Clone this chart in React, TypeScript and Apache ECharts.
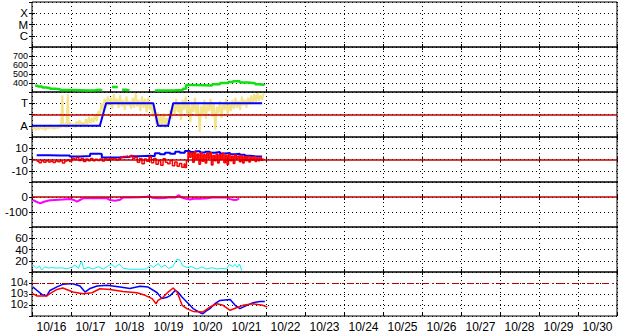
import React, { useEffect, useRef } from "react";
import * as echarts from "echarts";

// x values are days since 10/16 00:00
const dayLabels = ["10/16", "10/17", "10/18", "10/19", "10/20", "10/21", "10/22", "10/23", "10/24", "10/25", "10/26", "10/27", "10/28", "10/29", "10/30"];

const modeLabels: Record<number, string> = { 1: "C", 2: "M", 3: "X" };
const stateLabels: Record<number, string> = { 1: "A", 3: "T" };

const greenSeries: (number | null)[][] = [
  [0.08, 370], [0.15, 360], [0.26, 350], [0.36, 345], [0.46, 335], [0.59, 330], [0.72, 322], [0.97, 320],
  [1.23, 318], [1.49, 320], [1.62, 325], [1.74, 318], [1.8, null],
  [2.05, 355], [2.15, 355], [2.2, null], [2.31, 325], [2.41, 320], [2.5, null],
  [3.15, 318], [3.41, 320], [3.67, 322], [3.87, 335], [3.95, 378], [4.18, 375], [4.44, 372], [4.62, 385],
  [4.82, 400], [5.03, 410], [5.15, 420], [5.33, 405], [5.54, 398], [5.72, 385], [5.79, 380], [5.95, 390],
];

const yellowSeries: number[][] = [
  [0.02, 0.7], [0.06, 0.95], [0.1, 0.6], [0.14, 0.9], [0.18, 0.65], [0.22, 1.0], [0.26, 0.7], [0.3, 0.85], [0.34, 0.6], [0.38, 0.95],
  [0.42, 0.7], [0.46, 1.1], [0.5, 0.75], [0.54, 0.9], [0.58, 0.7], [0.62, 1.0], [0.66, 0.75], [0.7, 1.1], [0.74, 0.8], [0.78, 3.7],
  [0.8, 0.9], [0.84, 1.2], [0.88, 0.8], [0.92, 3.8], [0.94, 1.0], [0.98, 1.3], [1.02, 0.9], [1.06, 1.2], [1.1, 0.85], [1.14, 1.4],
  [1.18, 1.0], [1.22, 1.5], [1.26, 1.1], [1.3, 1.3], [1.34, 0.9], [1.38, 1.6], [1.42, 1.1], [1.46, 1.8], [1.5, 1.2], [1.54, 1.7],
  [1.58, 1.3], [1.62, 2.0], [1.66, 1.4], [1.7, 2.3], [1.74, 1.9], [1.78, 3.0], [1.82, 2.4], [1.86, 3.4], [1.9, 2.6], [1.94, 3.6],
  [1.98, 2.8], [2.02, 3.5], [2.06, 2.5], [2.1, 3.8], [2.14, 2.9], [2.18, 3.4], [2.22, 2.6], [2.26, 3.7], [2.3, 2.7], [2.34, 3.3],
  [2.38, 2.4], [2.42, 3.6], [2.46, 2.8], [2.5, 3.2], [2.54, 2.5], [2.58, 3.5], [2.62, 2.6], [2.66, 3.9], [2.7, 2.7], [2.74, 3.3],
  [2.78, 2.3], [2.82, 3.6], [2.86, 2.6], [2.9, 3.4], [2.94, 2.2], [2.98, 3.5], [3.02, 2.4], [3.06, 3.1], [3.1, 1.8], [3.14, 2.6],
  [3.18, 1.2], [3.22, 2.2], [3.26, 0.9], [3.3, 1.9], [3.34, 1.0], [3.38, 2.1], [3.42, 0.8], [3.46, 1.7], [3.5, 1.1], [3.54, 2.4],
  [3.58, 1.6], [3.62, 3.0], [3.66, 2.0], [3.7, 3.4], [3.74, 2.2], [3.78, 3.1], [3.82, 1.5], [3.86, 3.3], [3.9, 2.4], [3.94, 3.6],
  [3.98, 2.0], [4.02, 3.2], [4.06, 1.3], [4.1, 3.0], [4.14, 2.2], [4.18, 3.5], [4.22, 1.9], [4.26, 2.9], [4.3, 0.5], [4.34, 2.8],
  [4.38, 2.0], [4.42, 3.3], [4.46, 1.6], [4.5, 3.0], [4.54, 2.3], [4.58, 3.4], [4.62, 1.8], [4.66, 3.1], [4.7, 0.6], [4.74, 2.7],
  [4.78, 2.1], [4.82, 3.2], [4.86, 1.7], [4.9, 3.0], [4.94, 2.4], [4.98, 3.4], [5.02, 1.9], [5.06, 3.1], [5.1, 2.3], [5.14, 3.3],
  [5.18, 2.5], [5.22, 3.5], [5.26, 2.6], [5.3, 3.2], [5.34, 2.4], [5.38, 3.6], [5.42, 2.8], [5.46, 3.3], [5.5, 2.6], [5.54, 3.5],
  [5.58, 2.9], [5.62, 3.7], [5.66, 3.0], [5.7, 3.8], [5.74, 3.1], [5.78, 3.9], [5.82, 3.2], [5.86, 3.7], [5.9, 3.3], [5.94, 3.9],
];

const stateSeries: number[][] = [
  [0, 1], [1.74, 1], [1.9, 3], [3.11, 3], [3.23, 1], [3.49, 1], [3.62, 3], [5.9, 3],
];

const blueDelta: number[][] = [
  [0.12, 3.8], [0.46, 3.6], [0.72, 3.5], [0.97, 2.6], [1.23, 3.2], [1.49, 5.2], [1.74, 5.0], [1.79, 1.8], [2.0, 2.0],
  [2.26, 2.2], [2.51, 3.0], [2.77, 3.3], [3.03, 3.0], [3.15, 5.5], [3.28, 4.6], [3.41, 6.0], [3.54, 5.2], [3.67, 6.8],
  [3.79, 6.0], [3.92, 7.5], [4.05, 6.6], [4.18, 7.4], [4.31, 6.2], [4.44, 7.0], [4.56, 6.0], [4.69, 6.6], [4.82, 5.4],
  [4.95, 5.8], [5.08, 4.6], [5.21, 5.2], [5.33, 4.2], [5.46, 3.4], [5.59, 3.0], [5.72, 2.6], [5.9, 2.4],
];

const redDelta: number[][] = [
  [0.12, -1.5], [0.18, -2.8], [0.24, -1.2], [0.3, -2.5], [0.36, -1.0], [0.42, -2.2], [0.48, -1.5], [0.54, -2.6], [0.6, -1.3],
  [0.66, -2.0], [0.72, -1.0], [0.78, -3.2], [0.84, -1.4], [0.9, -0.5], [0.96, -1.8], [1.02, 1.2], [1.08, 0.2], [1.14, 1.8],
  [1.2, -0.8], [1.26, 1.0], [1.32, -1.8], [1.38, 0.5], [1.44, -1.0], [1.5, 0.8], [1.56, -1.2], [1.62, 0.2], [1.68, -0.8],
  [1.74, 0.5], [1.8, -1.3], [1.86, 0.6], [1.92, -0.6], [1.98, 0.8], [2.04, 0.2], [2.1, 1.0], [2.16, -0.4], [2.22, 0.6],
  [2.28, 1.8], [2.34, 2.6], [2.4, 3.2], [2.46, 2.4], [2.52, 3.6], [2.58, 1.2], [2.64, 2.0], [2.7, -2.5], [2.76, 1.0],
  [2.82, -3.8], [2.88, 0.5], [2.94, -1.5], [3.0, 2.2], [3.06, -2.8], [3.12, 0.8], [3.18, -4.2], [3.24, -1.0], [3.3, -5.0],
  [3.36, 0.6], [3.42, -2.4], [3.48, -3.8], [3.54, -0.8], [3.6, -5.6], [3.66, -2.2], [3.72, -6.0], [3.78, -3.5], [3.84, -6.8],
  [3.9, -4.0], [3.92, -7.2], [3.96, -1.0], [4.0, 6.5], [4.04, 2.0], [4.08, 5.8], [4.12, -2.5], [4.16, 6.8], [4.2, 0.5],
  [4.24, 5.0], [4.28, -4.2], [4.32, 6.0], [4.36, -1.5], [4.4, 4.5], [4.44, -3.0], [4.48, 5.5], [4.52, 0.8], [4.56, 6.2],
  [4.6, -4.8], [4.64, 3.5], [4.68, -1.2], [4.72, 5.0], [4.76, -3.2], [4.8, 4.2], [4.84, 0.2], [4.88, 5.5], [4.92, -2.8],
  [4.96, 3.8], [5.0, -4.5], [5.04, 4.6], [5.08, -1.0], [5.12, 3.0], [5.16, -3.6], [5.2, 4.0], [5.24, 0.5], [5.28, 3.2],
  [5.32, -2.0], [5.36, 3.6], [5.4, -3.0], [5.44, 2.5], [5.48, -1.0], [5.52, 3.0], [5.56, -2.2], [5.6, 1.8], [5.64, -0.5],
  [5.68, 2.6], [5.72, -1.8], [5.76, 1.5], [5.8, -1.0], [5.84, 2.0], [5.88, -0.6], [5.92, 1.2],
];

const magentaSeries: number[][] = [
  [0.03, -20], [0.1, -30], [0.21, -42], [0.33, -30], [0.46, -22], [0.59, -20], [0.79, -17], [0.97, -13], [1.08, -20],
  [1.15, -31], [1.23, -20], [1.31, -9], [1.49, -9], [1.74, -9], [1.92, -9], [2.0, -20], [2.13, -25], [2.26, -18],
  [2.33, -4], [2.51, -3], [2.77, -2], [2.85, 0], [2.95, 0], [2.97, 4], [3.03, 4], [3.08, -5], [3.23, -8], [3.41, -6],
  [3.54, -2], [3.67, -4], [3.77, 13], [3.82, -2], [3.92, -10], [4.05, -16], [4.18, -10], [4.31, -12], [4.49, -9],
  [4.62, -4], [4.82, -3], [5.0, -4], [5.08, -14], [5.18, -20], [5.26, -18], [5.31, -8],
];

const cyanSeries: number[][] = [
  [0.03, 12.4], [0.12, 6.5], [0.19, 10.7], [0.25, 3.6], [0.33, 9.5], [0.42, 7], [0.5, 8], [0.63, 7], [0.76, 7.5],
  [0.89, 5.9], [1.02, 8.3], [1.1, 12.4], [1.19, 6.5], [1.27, 19.5], [1.33, 5.3], [1.44, 8.3], [1.57, 5.3], [1.7, 9.5],
  [1.83, 5.3], [1.96, 11.3], [2.04, 13.6], [2.13, 8.3], [2.24, 14.2], [2.34, 6.5], [2.51, 4.8], [2.77, 4.8], [2.94, 5.3],
  [3.03, 12.4], [3.11, 8.3], [3.24, 15], [3.32, 8.3], [3.41, 12.4], [3.5, 6.5], [3.61, 9.5], [3.71, 22.5], [3.79, 21.3],
  [3.86, 11.3], [3.97, 8.3], [4.09, 9.5], [4.22, 5.3], [4.35, 8.9], [4.48, 5.3], [4.61, 7.7], [4.74, 5.3], [4.86, 6.5],
  [4.99, 5.3], [5.06, 13.6], [5.15, 9.5], [5.21, 13.6], [5.26, 8.3], [5.32, 14.2], [5.38, 2.4],
];

const blueFlux: number[][] = [
  [0.02, 4400], [0.13, 2100], [0.26, 870], [0.38, 700], [0.46, 2100], [0.64, 4400], [0.79, 7600], [0.97, 8700],
  [1.05, 8700], [1.23, 5400], [1.36, 1500], [1.49, 3200], [1.67, 5400], [1.92, 6200], [2.26, 4400], [2.51, 3200],
  [2.77, 5000], [2.97, 4400], [3.21, 1300], [3.33, 380], [3.46, 500], [3.54, 700], [3.67, 2100], [3.74, 1500],
  [3.85, 500], [3.97, 190], [4.13, 47], [4.31, 20], [4.38, 16], [4.46, 28], [4.56, 47], [4.69, 130], [4.82, 260],
  [5.08, 320], [5.21, 93], [5.33, 47], [5.51, 93], [5.67, 160], [5.85, 210], [5.97, 210],
];

const redFlux: number[][] = [
  [0.02, 1070], [0.13, 660], [0.38, 660], [0.46, 1070], [0.64, 2600], [0.79, 3500], [1.05, 1500], [1.31, 1070],
  [1.54, 1300], [1.74, 3000], [2.0, 2600], [2.33, 1700], [2.69, 1300], [2.9, 760], [3.08, 380], [3.18, 130],
  [3.23, 260], [3.36, 500], [3.49, 1500], [3.62, 3500], [3.72, 1500], [3.85, 93], [3.97, 47], [4.13, 26], [4.38, 23],
  [4.56, 66], [4.74, 130], [4.9, 93], [5.08, 33], [5.21, 50], [5.41, 93], [5.67, 130], [5.92, 93], [6.03, 66],
];

const FONT = "'Liberation Sans', Arial, sans-serif";
const DARK_RED = "#c00000";

export default function App() {
  const ref = useRef<HTMLDivElement>(null);

  useEffect(() => {
    if (!ref.current) return;
    const chart = echarts.init(ref.current, null, { renderer: "svg" });

    const tops = [2, 47, 92, 137, 182, 227, 272];
    const heights = [45, 45, 45, 45, 45, 45, 44];
    const grid = tops.map((t, i) => ({
      left: 32, right: 11, top: t, height: heights[i],
      show: true, borderColor: "#000", borderWidth: 1, backgroundColor: "transparent",
    }));

    const dotted = { show: true, lineStyle: { color: "#000", type: [1, 3] as any, width: 1 } };
    const xAxis: any[] = [];
    for (let i = 0; i < 7; i++) {
      xAxis.push({
        type: "value", gridIndex: i, min: 0, max: 15, interval: 1, position: "bottom",
        axisLine: { show: false }, axisLabel: { show: false },
        axisTick: { show: true, inside: true, length: 3, lineStyle: { color: "#000" } },
        splitLine: dotted,
      });
    }
    for (let i = 0; i < 7; i++) {
      xAxis.push({
        type: "value", gridIndex: i, min: 0, max: 15, interval: 1, position: "top",
        axisLine: { show: false }, axisLabel: { show: false },
        axisTick: { show: true, inside: true, length: 3, lineStyle: { color: "#000" } },
        splitLine: { show: false },
      });
    }
    xAxis.push({
      type: "category", gridIndex: 6, position: "bottom", data: dayLabels, boundaryGap: true,
      axisLine: { show: false }, axisTick: { show: false }, splitLine: { show: false },
      axisLabel: { color: "#000", fontSize: 12, fontFamily: FONT, margin: 5, interval: 0 },
    });

    const lbl = (formatter: any, extra: any = {}) => ({
      color: "#000", fontSize: 11.5, fontFamily: FONT, margin: 4, lineHeight: 9,
      showMinLabel: false, showMaxLabel: false, formatter, ...extra,
    });
    const tick = { show: true, inside: true, length: 3, lineStyle: { color: "#000" } };
    const yDefs: any[] = [
      { min: 0, max: 4, interval: 1, axisLabel: lbl((v: number) => modeLabels[v] || "") },
      {
        min: 300, max: 800, interval: 100,
        axisLabel: lbl((v: number) => (v >= 400 && v <= 700 ? String(v) : ""), { fontSize: 9, lineHeight: 8 }),
      },
      { min: 0, max: 4, interval: 1, axisLabel: lbl((v: number) => stateLabels[v] || "") },
      { min: -20, max: 20, interval: 10, axisLabel: lbl((v: number) => (Math.abs(v) <= 10 ? String(v) : "")) },
      { min: -200, max: 100, interval: 100, axisLabel: lbl((v: number) => (v === 0 || v === -100 ? String(v) : "")) },
      { min: 0, max: 80, interval: 20, axisLabel: lbl((v: number) => (v >= 20 && v <= 60 ? String(v) : "")) },
      {
        type: "log", logBase: 10, min: 10, max: 100000,
        axisLabel: lbl((v: number) => {
          const e = Math.round(Math.log10(v));
          return e >= 2 && e <= 4 ? `{b|10}{s|${e}}` : "";
        }, {
          lineHeight: undefined,
          rich: {
            b: { fontSize: 11.5, fontFamily: FONT, color: "#000", verticalAlign: "bottom", lineHeight: 10 },
            s: { fontSize: 8.5, fontFamily: FONT, color: "#000", verticalAlign: "top", lineHeight: 8, padding: [0, 0, 4, 0] },
          },
        }),
      },
    ];
    const yAxis: any[] = [];
    yDefs.forEach((d, i) => {
      yAxis.push({
        type: "value", gridIndex: i, position: "left",
        axisLine: { show: false }, axisTick: tick, splitLine: dotted, ...d,
      });
    });
    yDefs.forEach((d, i) => {
      yAxis.push({
        type: d.type || "value", gridIndex: i, position: "right",
        min: d.min, max: d.max, interval: d.interval, logBase: d.logBase,
        axisLine: { show: false }, axisTick: tick, axisLabel: { show: false }, splitLine: { show: false },
      });
    });

    const line = (i: number, data: any[], color: string, width: number, extra: any = {}) => ({
      type: "line", xAxisIndex: i, yAxisIndex: i, data, showSymbol: false, symbol: "none",
      lineStyle: { color, width }, itemStyle: { color }, connectNulls: false, silent: true, ...extra,
    });
    const refLine = (i: number, value: number, type: any = "solid", width = 1.5) => ({
      type: "line", xAxisIndex: i, yAxisIndex: i, data: [], silent: true,
      markLine: {
        silent: true, symbol: "none", label: { show: false },
        lineStyle: { color: DARK_RED, width, type },
        data: [{ yAxis: value }],
      },
    });

    const series: any[] = [
      line(1, greenSeries, "#10e010", 2.5, { step: "end" }),
      line(2, yellowSeries, "#f5e38a", 2),
      refLine(2, 2),
      line(2, stateSeries, "#0000ff", 2),
      refLine(3, 0),
      line(3, blueDelta, "#0000ff", 2, { step: "end" }),
      line(3, redDelta, "#ff0000", 1.5, { step: "end" }),
      refLine(4, 0),
      line(4, magentaSeries, "#ff00ff", 2),
      line(5, cyanSeries, "#10f0f0", 1),
      refLine(6, 10000, [7, 3, 2, 3], 1.2),
      line(6, blueFlux, "#0000ff", 1.5),
      line(6, redFlux, "#ff0000", 1.5),
    ];

    chart.setOption({
      animation: false,
      backgroundColor: "#fff",
      grid, xAxis, yAxis, series,
    });
    return () => chart.dispose();
  }, []);

  return <div ref={ref} style={{ position: "fixed", left: 0, top: 0, width: 628, height: 334 }} />;
}
